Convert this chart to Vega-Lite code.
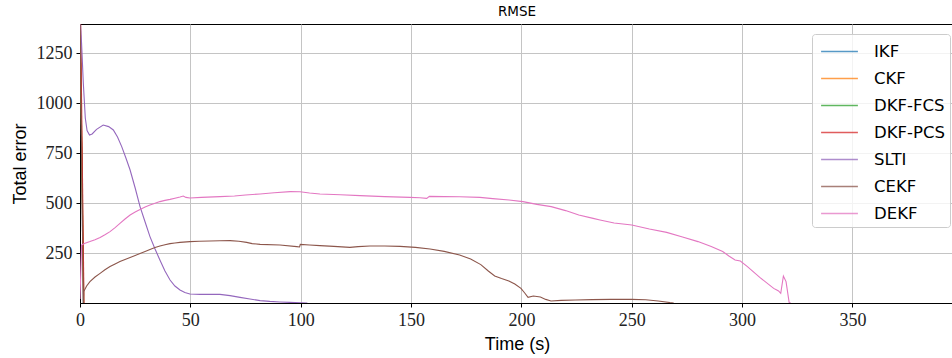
{
  "$schema": "https://vega.github.io/schema/vega-lite/v6.json",
  "autosize": {"type": "none"},
  "padding": {"left": 80, "top": 24, "right": 0, "bottom": 55},
  "width": 874,
  "height": 279,
  "background": "white",
  "title": {"text": "RMSE", "font": "DejaVu Sans", "fontSize": 13.5, "fontWeight": "normal", "color": "black", "anchor": "middle", "frame": "group", "offset": 6},
  "data": {"values": [
    {"series": "IKF", "t": 0, "v": 1500}, {"series": "IKF", "t": 1.5, "v": 0},
    {"series": "CKF", "t": 0, "v": 1480}, {"series": "CKF", "t": 1.6, "v": 0},
    {"series": "DKF-FCS", "t": 0, "v": 1490}, {"series": "DKF-FCS", "t": 1.7, "v": 0},
    {"series": "DKF-PCS", "t": 0, "v": 1670}, {"series": "DKF-PCS", "t": 1.8, "v": 0},
    {"series": "SLTI", "t": 0, "v": 1430}, {"series": "SLTI", "t": 0.7, "v": 1300}, {"series": "SLTI", "t": 1.5, "v": 1100}, {"series": "SLTI", "t": 2.4, "v": 925}, {"series": "SLTI", "t": 3.2, "v": 862}, {"series": "SLTI", "t": 4.3, "v": 840}, {"series": "SLTI", "t": 5.5, "v": 845}, {"series": "SLTI", "t": 7.5, "v": 868}, {"series": "SLTI", "t": 10.5, "v": 890}, {"series": "SLTI", "t": 13, "v": 882}, {"series": "SLTI", "t": 15.1, "v": 865}, {"series": "SLTI", "t": 17, "v": 830}, {"series": "SLTI", "t": 18.9, "v": 782}, {"series": "SLTI", "t": 20.8, "v": 725}, {"series": "SLTI", "t": 22.7, "v": 665}, {"series": "SLTI", "t": 25, "v": 575}, {"series": "SLTI", "t": 27.2, "v": 482}, {"series": "SLTI", "t": 29.5, "v": 405}, {"series": "SLTI", "t": 31.7, "v": 332}, {"series": "SLTI", "t": 34, "v": 270}, {"series": "SLTI", "t": 36.2, "v": 215}, {"series": "SLTI", "t": 38.5, "v": 160}, {"series": "SLTI", "t": 40.8, "v": 115}, {"series": "SLTI", "t": 43, "v": 85}, {"series": "SLTI", "t": 45.3, "v": 65}, {"series": "SLTI", "t": 47.5, "v": 52}, {"series": "SLTI", "t": 49.8, "v": 45}, {"series": "SLTI", "t": 54.4, "v": 43}, {"series": "SLTI", "t": 60, "v": 44}, {"series": "SLTI", "t": 63.4, "v": 43}, {"series": "SLTI", "t": 68, "v": 37}, {"series": "SLTI", "t": 72.5, "v": 28}, {"series": "SLTI", "t": 77, "v": 20}, {"series": "SLTI", "t": 81.6, "v": 12}, {"series": "SLTI", "t": 86, "v": 8}, {"series": "SLTI", "t": 90.6, "v": 5}, {"series": "SLTI", "t": 95, "v": 3}, {"series": "SLTI", "t": 100, "v": 1.5}, {"series": "SLTI", "t": 103, "v": 0},
    {"series": "CEKF", "t": 0, "v": 1450}, {"series": "CEKF", "t": 1.5, "v": 0}, {"series": "CEKF", "t": 1.7, "v": 57}, {"series": "CEKF", "t": 3, "v": 85}, {"series": "CEKF", "t": 4.5, "v": 107}, {"series": "CEKF", "t": 6.8, "v": 130}, {"series": "CEKF", "t": 9.1, "v": 148}, {"series": "CEKF", "t": 11.3, "v": 166}, {"series": "CEKF", "t": 13.6, "v": 182}, {"series": "CEKF", "t": 15.9, "v": 195}, {"series": "CEKF", "t": 18.1, "v": 207}, {"series": "CEKF", "t": 20.4, "v": 218}, {"series": "CEKF", "t": 22.7, "v": 228}, {"series": "CEKF", "t": 25, "v": 238}, {"series": "CEKF", "t": 27.2, "v": 248}, {"series": "CEKF", "t": 29.5, "v": 258}, {"series": "CEKF", "t": 31.7, "v": 268}, {"series": "CEKF", "t": 34, "v": 277}, {"series": "CEKF", "t": 36.2, "v": 285}, {"series": "CEKF", "t": 38.5, "v": 291}, {"series": "CEKF", "t": 40.8, "v": 297}, {"series": "CEKF", "t": 43, "v": 300}, {"series": "CEKF", "t": 45.3, "v": 303}, {"series": "CEKF", "t": 49.8, "v": 307}, {"series": "CEKF", "t": 54, "v": 309}, {"series": "CEKF", "t": 58.9, "v": 310}, {"series": "CEKF", "t": 63.4, "v": 311}, {"series": "CEKF", "t": 68, "v": 312}, {"series": "CEKF", "t": 72, "v": 309}, {"series": "CEKF", "t": 75.5, "v": 303}, {"series": "CEKF", "t": 78, "v": 297}, {"series": "CEKF", "t": 81.6, "v": 293}, {"series": "CEKF", "t": 90.6, "v": 290}, {"series": "CEKF", "t": 98.2, "v": 282}, {"series": "CEKF", "t": 99.5, "v": 280}, {"series": "CEKF", "t": 99.8, "v": 293}, {"series": "CEKF", "t": 104, "v": 290}, {"series": "CEKF", "t": 108.7, "v": 287}, {"series": "CEKF", "t": 115, "v": 283}, {"series": "CEKF", "t": 122.3, "v": 278}, {"series": "CEKF", "t": 126, "v": 282}, {"series": "CEKF", "t": 131.4, "v": 285}, {"series": "CEKF", "t": 138, "v": 285}, {"series": "CEKF", "t": 145, "v": 283}, {"series": "CEKF", "t": 152, "v": 278}, {"series": "CEKF", "t": 158.6, "v": 270}, {"series": "CEKF", "t": 165, "v": 258}, {"series": "CEKF", "t": 172, "v": 240}, {"series": "CEKF", "t": 177, "v": 220}, {"series": "CEKF", "t": 181.6, "v": 192}, {"series": "CEKF", "t": 185, "v": 160}, {"series": "CEKF", "t": 187.9, "v": 135}, {"series": "CEKF", "t": 191, "v": 122}, {"series": "CEKF", "t": 194.3, "v": 110}, {"series": "CEKF", "t": 197, "v": 95}, {"series": "CEKF", "t": 199.8, "v": 73}, {"series": "CEKF", "t": 201.5, "v": 50}, {"series": "CEKF", "t": 203, "v": 28}, {"series": "CEKF", "t": 205.4, "v": 35}, {"series": "CEKF", "t": 208.6, "v": 30}, {"series": "CEKF", "t": 211, "v": 18}, {"series": "CEKF", "t": 213.4, "v": 10}, {"series": "CEKF", "t": 218, "v": 13}, {"series": "CEKF", "t": 224.5, "v": 15}, {"series": "CEKF", "t": 232, "v": 17}, {"series": "CEKF", "t": 240.4, "v": 18}, {"series": "CEKF", "t": 250, "v": 18}, {"series": "CEKF", "t": 256.3, "v": 16}, {"series": "CEKF", "t": 262, "v": 10}, {"series": "CEKF", "t": 267.3, "v": 2}, {"series": "CEKF", "t": 269, "v": 0},
    {"series": "DEKF", "t": 0, "v": 20}, {"series": "DEKF", "t": 0.7, "v": 290}, {"series": "DEKF", "t": 2, "v": 298}, {"series": "DEKF", "t": 4.5, "v": 307}, {"series": "DEKF", "t": 6.8, "v": 316}, {"series": "DEKF", "t": 9.1, "v": 328}, {"series": "DEKF", "t": 11.3, "v": 341}, {"series": "DEKF", "t": 13.6, "v": 357}, {"series": "DEKF", "t": 15.9, "v": 377}, {"series": "DEKF", "t": 18.1, "v": 398}, {"series": "DEKF", "t": 20.4, "v": 420}, {"series": "DEKF", "t": 22.7, "v": 440}, {"series": "DEKF", "t": 25, "v": 455}, {"series": "DEKF", "t": 27.2, "v": 468}, {"series": "DEKF", "t": 29.5, "v": 480}, {"series": "DEKF", "t": 31.7, "v": 490}, {"series": "DEKF", "t": 34, "v": 499}, {"series": "DEKF", "t": 36.2, "v": 507}, {"series": "DEKF", "t": 38.5, "v": 513}, {"series": "DEKF", "t": 40.8, "v": 518}, {"series": "DEKF", "t": 43, "v": 524}, {"series": "DEKF", "t": 45.3, "v": 530}, {"series": "DEKF", "t": 46.8, "v": 535}, {"series": "DEKF", "t": 48, "v": 528}, {"series": "DEKF", "t": 49.8, "v": 525}, {"series": "DEKF", "t": 55, "v": 528}, {"series": "DEKF", "t": 63.4, "v": 532}, {"series": "DEKF", "t": 70, "v": 535}, {"series": "DEKF", "t": 75, "v": 540}, {"series": "DEKF", "t": 81.6, "v": 545}, {"series": "DEKF", "t": 88, "v": 551}, {"series": "DEKF", "t": 95.2, "v": 557}, {"series": "DEKF", "t": 99.7, "v": 556}, {"series": "DEKF", "t": 104, "v": 550}, {"series": "DEKF", "t": 108.7, "v": 545}, {"series": "DEKF", "t": 118, "v": 541}, {"series": "DEKF", "t": 126.9, "v": 537}, {"series": "DEKF", "t": 138, "v": 532}, {"series": "DEKF", "t": 149.5, "v": 528}, {"series": "DEKF", "t": 154, "v": 526}, {"series": "DEKF", "t": 157.1, "v": 523}, {"series": "DEKF", "t": 158.3, "v": 533}, {"series": "DEKF", "t": 165, "v": 532}, {"series": "DEKF", "t": 172, "v": 531}, {"series": "DEKF", "t": 181.2, "v": 528}, {"series": "DEKF", "t": 187, "v": 522}, {"series": "DEKF", "t": 194.4, "v": 515}, {"series": "DEKF", "t": 200.7, "v": 507}, {"series": "DEKF", "t": 207, "v": 493}, {"series": "DEKF", "t": 213.5, "v": 482}, {"series": "DEKF", "t": 220, "v": 462}, {"series": "DEKF", "t": 226, "v": 440}, {"series": "DEKF", "t": 232.5, "v": 423}, {"series": "DEKF", "t": 235.6, "v": 415}, {"series": "DEKF", "t": 242, "v": 400}, {"series": "DEKF", "t": 250, "v": 390}, {"series": "DEKF", "t": 258, "v": 370}, {"series": "DEKF", "t": 265.8, "v": 353}, {"series": "DEKF", "t": 273, "v": 330}, {"series": "DEKF", "t": 280, "v": 307}, {"series": "DEKF", "t": 286, "v": 282}, {"series": "DEKF", "t": 291.2, "v": 257}, {"series": "DEKF", "t": 294, "v": 235}, {"series": "DEKF", "t": 296.8, "v": 215}, {"series": "DEKF", "t": 299.2, "v": 210}, {"series": "DEKF", "t": 302.4, "v": 182}, {"series": "DEKF", "t": 308, "v": 128}, {"series": "DEKF", "t": 314.3, "v": 73}, {"series": "DEKF", "t": 315.7, "v": 65}, {"series": "DEKF", "t": 316.5, "v": 60}, {"series": "DEKF", "t": 317.5, "v": 48}, {"series": "DEKF", "t": 318.7, "v": 135}, {"series": "DEKF", "t": 319.9, "v": 107}, {"series": "DEKF", "t": 321.3, "v": 3}, {"series": "DEKF", "t": 322, "v": 0}
  ]},
  "mark": {"type": "line", "clip": true, "strokeWidth": 1.1, "interpolate": "linear"},
  "encoding": {
    "x": {"field": "t", "type": "quantitative", "scale": {"domain": [0, 396], "nice": false, "zero": false},
      "axis": {"values": [0, 50, 100, 150, 200, 250, 300, 350], "title": "Time (s)", "format": "d"}},
    "y": {"field": "v", "type": "quantitative", "scale": {"domain": [0, 1395], "nice": false},
      "axis": {"values": [250, 500, 750, 1000, 1250], "title": "Total error", "format": "d"}},
    "color": {"field": "series", "type": "nominal",
      "scale": {"domain": ["IKF", "CKF", "DKF-FCS", "DKF-PCS", "SLTI", "CEKF", "DEKF"],
                "range": ["#1f77b4", "#ff7f0e", "#2ca02c", "#d62728", "#9467bd", "#8c564b", "#e377c2"]},
      "legend": {"title": null, "orient": "none", "legendX": 732, "legendY": 10}}
  },
  "config": {
    "view": {"stroke": "black", "strokeWidth": 1},
    "axis": {
      "grid": true, "gridColor": "#c4c4c4", "gridWidth": 1,
      "domainColor": "black", "domainWidth": 1,
      "tickColor": "black", "tickSize": 4, "tickWidth": 1,
      "labelFont": "Liberation Serif", "labelFontSize": 18, "labelColor": "#222222", "labelPadding": 4,
      "titleFont": "Liberation Sans", "titleFontSize": 18, "titleFontWeight": "normal", "titleColor": "black"
    },
    "axisX": {"titlePadding": 6, "labelFlush": false},
    "axisY": {"titlePadding": 7},
    "legend": {
      "symbolType": "M-1.6,0H1.6", "symbolStrokeWidth": 1.5, "symbolSize": 529, "symbolOffset": 10, "symbolOpacity": 0.75,
      "labelFont": "DejaVu Sans", "labelFontSize": 16.5, "labelColor": "black", "labelOffset": 22,
      "fillColor": "rgba(255,255,255,0.8)", "strokeColor": "#cccccc", "cornerRadius": 3, "padding": 5,
      "rowPadding": 6
    }
  }
}
